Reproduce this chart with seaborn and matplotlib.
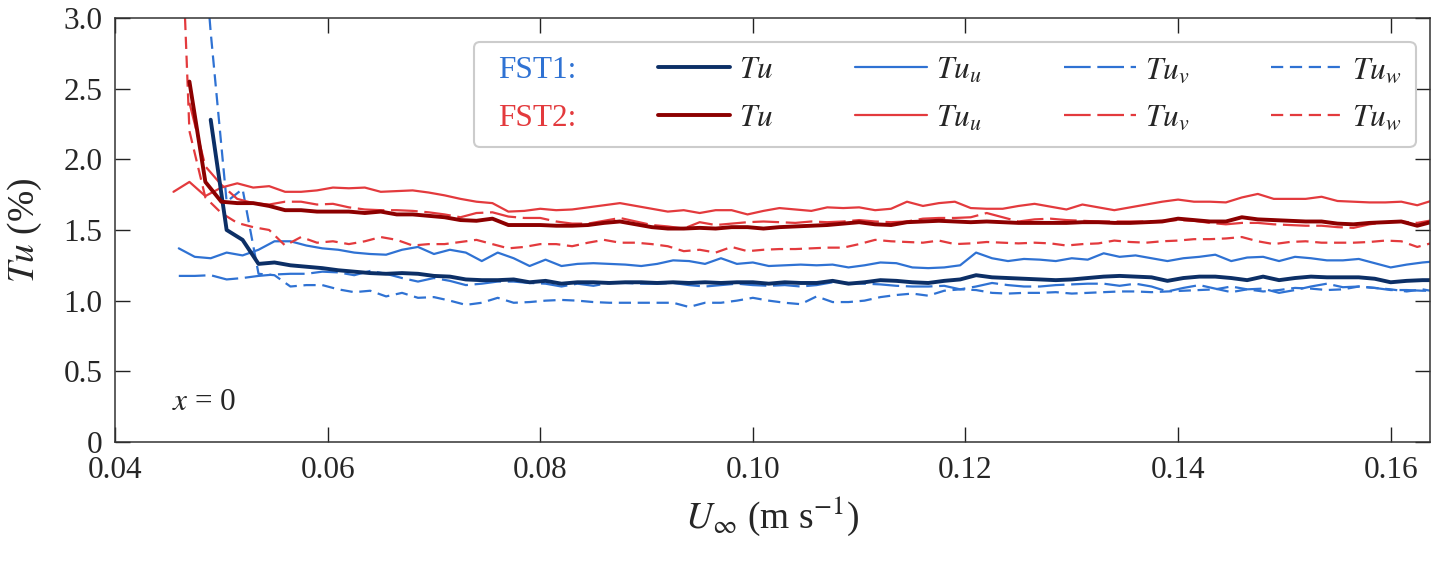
import matplotlib
matplotlib.use("Agg")
import matplotlib.pyplot as plt
from matplotlib.lines import Line2D
import numpy as np
import pandas as pd
import seaborn as sns

NAN = np.nan

# free-stream speed sweeps (m/s)
U_FST1 = [
    0.0460, 0.0475, 0.0490, 0.0505, 0.0520, 0.0535, 0.0550, 0.0565, 0.0580, 0.0595,
    0.0610, 0.0625, 0.0640, 0.0655, 0.0670, 0.0685, 0.0700, 0.0715, 0.0730, 0.0745,
    0.0760, 0.0775, 0.0790, 0.0805, 0.0820, 0.0835, 0.0850, 0.0865, 0.0880, 0.0895,
    0.0910, 0.0925, 0.0940, 0.0955, 0.0970, 0.0985, 0.1000, 0.1015, 0.1030, 0.1045,
    0.1060, 0.1075, 0.1090, 0.1105, 0.1120, 0.1135, 0.1150, 0.1165, 0.1180, 0.1195,
    0.1210, 0.1225, 0.1240, 0.1255, 0.1270, 0.1285, 0.1300, 0.1315, 0.1330, 0.1345,
    0.1360, 0.1375, 0.1390, 0.1405, 0.1420, 0.1435, 0.1450, 0.1465, 0.1480, 0.1495,
    0.1510, 0.1525, 0.1540, 0.1555, 0.1570, 0.1585, 0.1600, 0.1615, 0.1630, 0.1645,
]
U_FST2 = [
    0.0455, 0.0470, 0.0485, 0.0500, 0.0515, 0.0530, 0.0545, 0.0560, 0.0575, 0.0590,
    0.0605, 0.0620, 0.0635, 0.0650, 0.0665, 0.0680, 0.0695, 0.0710, 0.0725, 0.0740,
    0.0755, 0.0770, 0.0785, 0.0800, 0.0815, 0.0830, 0.0845, 0.0860, 0.0875, 0.0890,
    0.0905, 0.0920, 0.0935, 0.0950, 0.0965, 0.0980, 0.0995, 0.1010, 0.1025, 0.1040,
    0.1055, 0.1070, 0.1085, 0.1100, 0.1115, 0.1130, 0.1145, 0.1160, 0.1175, 0.1190,
    0.1205, 0.1220, 0.1235, 0.1250, 0.1265, 0.1280, 0.1295, 0.1310, 0.1325, 0.1340,
    0.1355, 0.1370, 0.1385, 0.1400, 0.1415, 0.1430, 0.1445, 0.1460, 0.1475, 0.1490,
    0.1505, 0.1520, 0.1535, 0.1550, 0.1565, 0.1580, 0.1595, 0.1610, 0.1625, 0.1640,
]

# turbulence intensity (%) - FST1
TU_FST1 = [
    NAN, NAN, 2.28, 1.50, 1.43, 1.26, 1.27, 1.25, 1.24, 1.23,
    1.215, 1.205, 1.195, 1.19, 1.195, 1.19, 1.175, 1.17, 1.15, 1.145,
    1.145, 1.15, 1.13, 1.14, 1.12, 1.13, 1.13, 1.125, 1.13, 1.13,
    1.125, 1.13, 1.125, 1.13, 1.125, 1.13, 1.13, 1.12, 1.13, 1.125,
    1.125, 1.14, 1.12, 1.13, 1.145, 1.14, 1.13, 1.125, 1.14, 1.15,
    1.18, 1.165, 1.16, 1.155, 1.15, 1.145, 1.15, 1.16, 1.17, 1.175,
    1.17, 1.165, 1.14, 1.16, 1.17, 1.17, 1.16, 1.145, 1.17, 1.145,
    1.16, 1.17, 1.165, 1.165, 1.165, 1.155, 1.13, 1.14, 1.145, 1.145,
]
TUU_FST1 = [
    1.37, 1.31, 1.30, 1.34, 1.32, 1.36, 1.42, 1.42, 1.39, 1.37,
    1.36, 1.34, 1.33, 1.325, 1.36, 1.38, 1.33, 1.36, 1.34, 1.28,
    1.34, 1.30, 1.245, 1.29, 1.245, 1.26, 1.265, 1.26, 1.255, 1.245,
    1.26, 1.285, 1.28, 1.26, 1.30, 1.26, 1.27, 1.245, 1.25, 1.255,
    1.25, 1.255, 1.235, 1.25, 1.27, 1.265, 1.235, 1.23, 1.235, 1.25,
    1.34, 1.30, 1.28, 1.295, 1.29, 1.28, 1.30, 1.29, 1.335, 1.31,
    1.32, 1.30, 1.28, 1.30, 1.31, 1.325, 1.28, 1.305, 1.31, 1.28,
    1.31, 1.30, 1.285, 1.285, 1.295, 1.265, 1.235, 1.255, 1.27, 1.28,
]
TUV_FST1 = [
    1.175, 1.175, 1.18, 1.15, 1.16, 1.175, 1.185, 1.19, 1.19, 1.205,
    1.20, 1.18, 1.21, 1.19, 1.16, 1.135, 1.16, 1.14, 1.11, 1.12,
    1.135, 1.135, 1.125, 1.12, 1.10, 1.12, 1.105, 1.125, 1.125, 1.12,
    1.12, 1.125, 1.11, 1.10, 1.11, 1.12, 1.11, 1.105, 1.11, 1.10,
    1.11, 1.13, 1.125, 1.12, 1.115, 1.105, 1.10, 1.10, 1.105, 1.08,
    1.10, 1.125, 1.11, 1.10, 1.10, 1.11, 1.115, 1.12, 1.12, 1.105,
    1.12, 1.10, 1.065, 1.09, 1.11, 1.085, 1.06, 1.08, 1.085, 1.055,
    1.075, 1.10, 1.12, 1.095, 1.10, 1.09, 1.075, 1.075, 1.07, 1.07,
]
TUW_FST1 = [
    NAN, 4.3, 2.9, 1.70, 1.79, 1.19, 1.18, 1.10, 1.11, 1.11,
    1.08, 1.06, 1.07, 1.03, 1.055, 1.02, 1.025, 1.00, 0.97, 0.985,
    1.02, 0.985, 0.99, 1.00, 1.005, 1.00, 0.99, 0.985, 0.985, 0.985,
    0.985, 0.985, 0.955, 0.985, 0.985, 1.00, 1.02, 1.00, 0.985, 0.975,
    1.03, 0.99, 0.99, 1.00, 1.025, 1.04, 1.05, 1.035, 1.07, 1.08,
    1.075, 1.055, 1.05, 1.055, 1.055, 1.06, 1.05, 1.055, 1.06, 1.065,
    1.065, 1.06, 1.065, 1.07, 1.075, 1.08, 1.10, 1.08, 1.065, 1.075,
    1.09, 1.085, 1.075, 1.08, 1.10, 1.09, 1.08, 1.065, 1.08, 1.06,
]

# turbulence intensity (%) - FST2
TU_FST2 = [
    NAN, 2.55, 1.84, 1.70, 1.69, 1.69, 1.67, 1.64, 1.64, 1.63,
    1.63, 1.63, 1.62, 1.63, 1.61, 1.61, 1.60, 1.59, 1.57, 1.565,
    1.58, 1.535, 1.535, 1.535, 1.53, 1.53, 1.535, 1.55, 1.56, 1.54,
    1.52, 1.51, 1.51, 1.515, 1.51, 1.52, 1.52, 1.51, 1.52, 1.525,
    1.53, 1.535, 1.545, 1.555, 1.54, 1.535, 1.555, 1.56, 1.565, 1.56,
    1.555, 1.56, 1.555, 1.55, 1.55, 1.55, 1.55, 1.555, 1.555, 1.55,
    1.55, 1.555, 1.56, 1.58, 1.57, 1.56, 1.56, 1.59, 1.575, 1.57,
    1.565, 1.56, 1.56, 1.545, 1.54, 1.55, 1.555, 1.56, 1.53, 1.56,
]
TUU_FST2 = [
    1.77, 1.84, 1.74, 1.80, 1.83, 1.80, 1.81, 1.77, 1.77, 1.78,
    1.80, 1.795, 1.80, 1.77, 1.775, 1.78, 1.765, 1.745, 1.72, 1.70,
    1.69, 1.63, 1.635, 1.65, 1.64, 1.645, 1.66, 1.675, 1.69, 1.67,
    1.65, 1.63, 1.64, 1.62, 1.64, 1.64, 1.61, 1.635, 1.655, 1.645,
    1.635, 1.66, 1.655, 1.66, 1.64, 1.65, 1.70, 1.67, 1.69, 1.70,
    1.655, 1.65, 1.65, 1.67, 1.685, 1.665, 1.645, 1.68, 1.66, 1.64,
    1.66, 1.68, 1.70, 1.715, 1.70, 1.70, 1.695, 1.73, 1.755, 1.72,
    1.72, 1.72, 1.735, 1.705, 1.70, 1.695, 1.695, 1.70, 1.675, 1.71,
]
TUV_FST2 = [
    NAN, 2.40, 1.95, 1.82, 1.72, 1.69, 1.68, 1.70, 1.70, 1.68,
    1.685, 1.66, 1.645, 1.64, 1.64, 1.635, 1.625, 1.61, 1.59, 1.62,
    1.625, 1.595, 1.585, 1.585, 1.56, 1.545, 1.545, 1.565, 1.585, 1.56,
    1.535, 1.525, 1.51, 1.555, 1.535, 1.545, 1.555, 1.56, 1.555, 1.55,
    1.56, 1.555, 1.56, 1.57, 1.56, 1.555, 1.56, 1.58, 1.585, 1.585,
    1.59, 1.62, 1.59, 1.56, 1.575, 1.58, 1.57, 1.565, 1.56, 1.56,
    1.56, 1.56, 1.565, 1.57, 1.565, 1.55, 1.54, 1.55, 1.55, 1.54,
    1.535, 1.53, 1.53, 1.52, 1.515, 1.54, 1.555, 1.56, 1.55, 1.57,
]
TUW_FST2 = [
    5.1, 2.2, 1.73, 1.62, 1.55, 1.52, 1.50, 1.39, 1.45, 1.41,
    1.42, 1.40, 1.42, 1.45, 1.43, 1.39, 1.40, 1.40, 1.415, 1.43,
    1.40, 1.37, 1.38, 1.40, 1.40, 1.385, 1.41, 1.43, 1.41, 1.41,
    1.40, 1.385, 1.35, 1.36, 1.34, 1.38, 1.35, 1.36, 1.365, 1.365,
    1.37, 1.375, 1.375, 1.40, 1.43, 1.42, 1.415, 1.41, 1.425, 1.40,
    1.405, 1.415, 1.41, 1.405, 1.41, 1.405, 1.39, 1.40, 1.405, 1.425,
    1.415, 1.41, 1.42, 1.425, 1.435, 1.435, 1.44, 1.45, 1.42, 1.40,
    1.415, 1.42, 1.41, 1.41, 1.41, 1.415, 1.425, 1.42, 1.38, 1.41,
]

X_TICKS = [0.04, 0.06, 0.08, 0.10, 0.12, 0.14, 0.16]
X_TICK_LABELS = ["0.04", "0.06", "0.08", "0.10", "0.12", "0.14", "0.16"]
Y_TICKS = [0, 0.5, 1.0, 1.5, 2.0, 2.5, 3.0]
Y_TICK_LABELS = ["0", "0.5", "1.0", "1.5", "2.0", "2.5", "3.0"]

NAVY = "#0c2f66"
BLUE = "#2f72d3"
DARKRED = "#8c0000"
RED = "#e33a3d"

LONG_DASH = (0, (12, 3))
SHORT_DASH = (0, (5.5, 3))
FS = 22.5
THIN = 1.6
THICK = 2.8

sns.set_style("ticks")
plt.rcParams["font.family"] = ["Liberation Serif", "DejaVu Serif"]
plt.rcParams["mathtext.fontset"] = "stix"

# (x, y, colour, linewidth, linestyle)
series = [
    (U_FST1, TUU_FST1, BLUE, THIN, "-"),
    (U_FST1, TUV_FST1, BLUE, THIN, LONG_DASH),
    (U_FST1, TUW_FST1, BLUE, THIN, SHORT_DASH),
    (U_FST2, TUU_FST2, RED, THIN, "-"),
    (U_FST2, TUV_FST2, RED, THIN, LONG_DASH),
    (U_FST2, TUW_FST2, RED, THIN, SHORT_DASH),
    (U_FST1, TU_FST1, NAVY, THICK, "-"),
    (U_FST2, TU_FST2, DARKRED, THICK, "-"),
]

fig = plt.figure(figsize=(14.43, 5.72), dpi=100)
ax = fig.add_axes([0.0797, 0.2273, 0.9113, 0.7413])

for x, y, color, lw, ls in series:
    df = pd.DataFrame({"U": x, "Tu": y}).dropna()
    sns.lineplot(data=df, x="U", y="Tu", ax=ax, color=color, lw=lw,
                 linestyle=ls, estimator=None, sort=False, legend=False)

ax.set_xlim(0.04, 0.1637)
ax.set_ylim(0, 3.0)
ax.set_xticks(X_TICKS)
ax.set_xticklabels(X_TICK_LABELS)
ax.set_yticks(Y_TICKS)
ax.set_yticklabels(Y_TICK_LABELS)
ax.tick_params(direction="in", length=11, width=1.0, top=True, right=True,
               labelsize=FS, color="#222222")
ax.tick_params(axis="y", pad=9)
ax.tick_params(axis="x", pad=10)
for sp in ax.spines.values():
    sp.set_linewidth(1.1)
    sp.set_color("#333333")

ax.set_xlabel(r"$U_\infty$ (m s$^{-1}$)", fontsize=27, labelpad=7)
ax.set_ylabel(r"$Tu$ (%)", fontsize=27, labelpad=14)
ax.text(0.043, 0.094, r"$x$ = 0", transform=ax.transAxes, fontsize=FS,
        ha="left", va="center")

blank = Line2D([], [], linestyle="none")
handles = [
    blank, blank,
    Line2D([], [], color=NAVY, lw=THICK), Line2D([], [], color=DARKRED, lw=THICK),
    Line2D([], [], color=BLUE, lw=THIN), Line2D([], [], color=RED, lw=THIN),
    Line2D([], [], color=BLUE, lw=THIN, linestyle=LONG_DASH),
    Line2D([], [], color=RED, lw=THIN, linestyle=LONG_DASH),
    Line2D([], [], color=BLUE, lw=THIN, linestyle=SHORT_DASH),
    Line2D([], [], color=RED, lw=THIN, linestyle=SHORT_DASH),
]
labels = ["FST1:", "FST2:", "$Tu$", "$Tu$", "$Tu_u$", "$Tu_u$",
          "$Tu_v$", "$Tu_v$", "$Tu_w$", "$Tu_w$"]
leg = ax.legend(handles, labels, ncol=5, loc="upper right",
                bbox_to_anchor=(0.989, 0.943), borderaxespad=0,
                fontsize=FS, handlelength=2.3, handletextpad=0.3,
                columnspacing=2.62, borderpad=0.45, labelspacing=0.6,
                frameon=True, fancybox=True, framealpha=1)
leg.get_frame().set_edgecolor("#cccccc")
leg.get_frame().set_linewidth(1.5)
texts = leg.get_texts()
texts[0].set_color(BLUE)
texts[1].set_color(RED)
# the FST row labels carry no line sample
for col in leg._legend_handle_box.get_children():
    for row in col.get_children():
        handle_area, text_area = row.get_children()
        if text_area.get_text().startswith("FST"):
            handle_area.width = 0

fig.savefig("out.png", dpi=100)
